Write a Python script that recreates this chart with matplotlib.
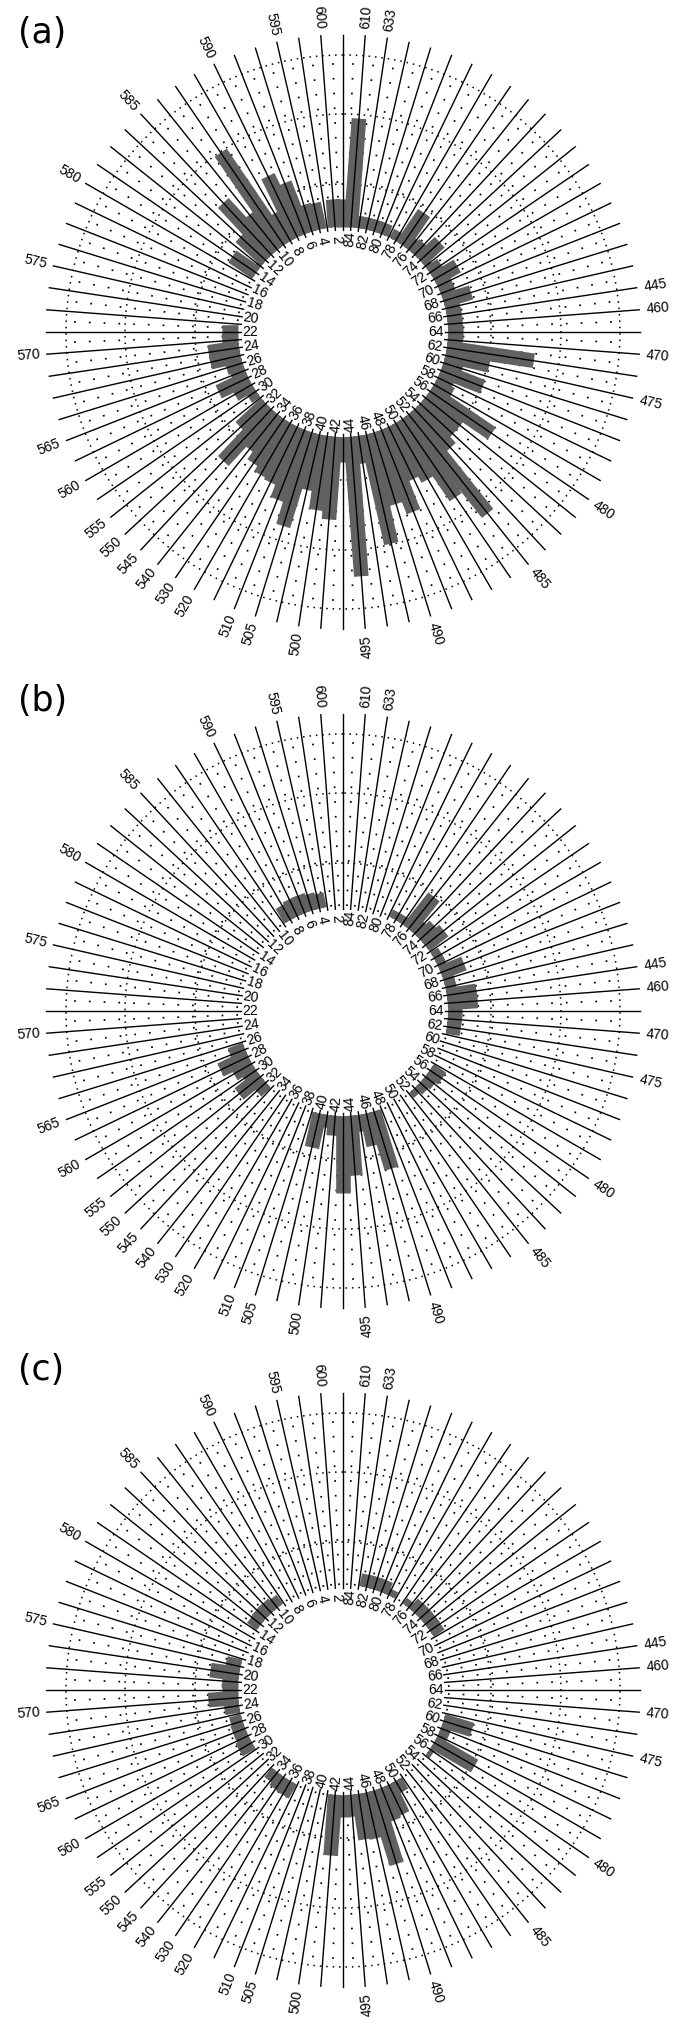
import numpy as np
import matplotlib
matplotlib.use("Agg")
import matplotlib.pyplot as plt

# ---- data -------------------------------------------------------------
N_SPOKES = 84
SPOKE_IDS = np.arange(1, N_SPOKES + 1)
INNER_IDS = list(range(2, N_SPOKES + 1, 2))

PANEL_NAMES = ["(a)", "(b)", "(c)"]

# bar length beyond the inner circle, spoke 1..84 (counter-clockwise from top)
BARS_A = [28, 28, 0, 27, 28, 55, 68, 32, 112, 45,
          71, 35, 5, 29, 0, 0, 0, 0, 0, 0,
          0, 16, 16, 31, 31, 17, 15, 33, 20, 10,
          0, 35, 71, 45, 54, 60, 62, 75, 98, 57,
          75, 83, 25, 140, 28, 112, 75, 88, 58, 65,
          95, 127, 53, 45, 45, 75, 20, 17, 45, 20,
          45, 88, 15, 15, 15, 15, 15, 29, 15, 15,
          27, 14, 7, 27, 15, 13, 39, 10, 0, 12,
          12, 12, 12, 109]
BARS_B = [0, 0, 0, 15, 17, 19, 19, 17, 0, 0,
          0, 0, 0, 0, 0, 0, 0, 0, 0, 0,
          0, 0, 0, 0, 0, 0, 16, 31, 21, 15,
          28, 13, 0, 0, 0, 0, 0, 0, 0, 35,
          13, 20, 77, 60, 17, 33, 60, 0, 0, 0,
          0, 0, 7, 10, 12, 15, 0, 0, 0, 0,
          0, 14, 14, 14, 30, 30, 11, 11, 25, 9,
          9, 0, 24, 20, 15, 41, 8, 8, 0, 0,
          0, 0, 0, 0]
BARS_C = [0, 0, 0, 0, 0, 0, 0, 0, 0, 11,
          13, 13, 12, 0, 0, 0, 0, 0, 15, 29,
          16, 16, 30, 15, 0, 12, 13, 13, 15, 0,
          0, 0, 0, 12, 15, 16, 0, 0, 0, 0,
          0, 61, 22, 22, 46, 47, 77, 35, 33, 13,
          0, 0, 0, 0, 0, 5, 47, 10, 10, 30,
          0, 0, 0, 0, 0, 0, 0, 0, 0, 0,
          0, 13, 13, 13, 13, 7, 0, 0, 7, 13,
          13, 13, 0, 0]

# outer wavelength labels and the spoke each one sits on
WAVE_LABELS = ["610", "633", "445", "460", "470", "475", "480", "485", "490",
               "495", "500", "505", "510", "520", "530", "540", "545", "550",
               "555", "560", "565", "570", "575", "580", "585", "590", "595",
               "600"]
WAVE_SPOKES = [84, 83, 66, 65, 63, 61, 56, 52, 47,
               44, 41, 39, 38, 36, 35, 34, 33, 32,
               31, 29, 27, 23, 19, 15, 11, 7, 4,
               2]

# ---- layout (pixels) --------------------------------------------------
W, H, DPI = 686, 2036, 100
CX = 343
CENTERS_Y = [332, 1011, 1690]
PANEL_LABEL_Y = [33, 701, 1370]
R_AX = 340
R_BASE = 105
R_SPOKE_IN = 102
R_SPOKE_OUT = 297
R_RINGS = [148, 218, 277]
R_INNER_TXT = 93
R_OUTER_TXT = 304

BAR_COLOR = "#616161"
BAR_LW = 10.5
NUM_FONT = "Liberation Sans"
INNER_SIZE = 10
OUTER_SIZE = 10


def spoke_theta(k):
    return (k - 1) * 2 * np.pi / N_SPOKES


def text_rot(theta):
    a = (90 + np.degrees(theta)) % 360
    if 90 < a < 275:
        return a - 180, "right"
    return (a if a <= 90 else a - 360), "left"


def draw_panel(ax, bars):
    ax.set_theta_offset(np.pi / 2)
    ax.set_ylim(0, R_AX)
    ax.set_axis_off()
    ax.patch.set_alpha(0)

    step = 2 * np.pi / N_SPOKES
    # dotted mid-lines between spokes
    for k in SPOKE_IDS:
        tm = spoke_theta(k) + step / 2
        ax.plot([tm, tm], [R_BASE, R_RINGS[-1]], color="black", lw=1.25,
                ls=(0, (1, 7.5)))
    # dotted rings
    tt = np.linspace(0, 2 * np.pi, 721)
    for r in R_RINGS:
        ax.plot(tt, np.full_like(tt, r), color="black", lw=1.1,
                ls=(0, (1, 3.2)))
    # bars
    for k, v in zip(SPOKE_IDS, bars):
        if v > 0:
            t = spoke_theta(k)
            ax.plot([t, t], [R_BASE, R_BASE + v], color=BAR_COLOR,
                    lw=BAR_LW, solid_capstyle="butt")
    # spokes
    for k in SPOKE_IDS:
        t = spoke_theta(k)
        ax.plot([t, t], [R_SPOKE_IN, R_SPOKE_OUT], color="black", lw=1.0)
    # inner spoke numbers
    for k in INNER_IDS:
        t = spoke_theta(k)
        rot, _ = text_rot(t)
        ax.text(t, R_INNER_TXT, str(k), rotation=rot, rotation_mode="anchor",
                ha="center", va="center", fontsize=INNER_SIZE,
                family=NUM_FONT, clip_on=False)
    # outer wavelength labels
    for lab, k in zip(WAVE_LABELS, WAVE_SPOKES):
        t = spoke_theta(k)
        rot, ha = text_rot(t)
        ax.text(t, R_OUTER_TXT, lab, rotation=rot, rotation_mode="anchor",
                ha=ha, va="center", fontsize=OUTER_SIZE, family=NUM_FONT,
                clip_on=False)


fig = plt.figure(figsize=(W / DPI, H / DPI), dpi=DPI)
for name, bars, cy, ly in zip(PANEL_NAMES, [BARS_A, BARS_B, BARS_C],
                              CENTERS_Y, PANEL_LABEL_Y):
    rect = [(CX - R_AX) / W, 1 - (cy + R_AX) / H, 2 * R_AX / W, 2 * R_AX / H]
    ax = fig.add_axes(rect, projection="polar")
    draw_panel(ax, bars)
    fig.text(18 / W, 1 - ly / H, name, fontsize=25, family="DejaVu Sans",
             ha="left", va="center")

fig.savefig("out.png", dpi=DPI)
